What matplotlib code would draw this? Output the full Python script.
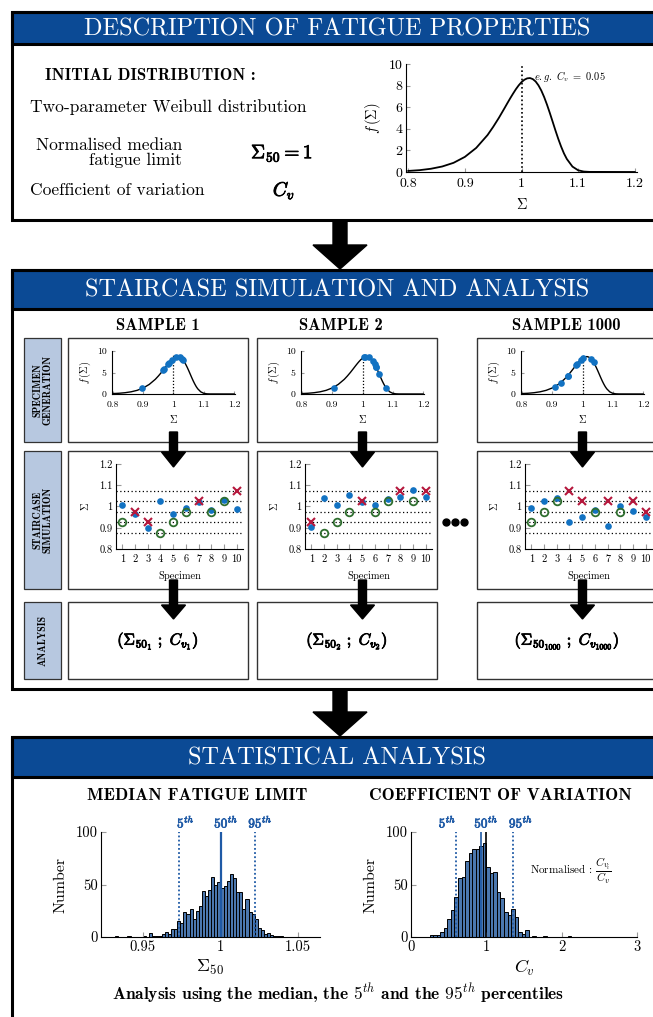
import matplotlib
matplotlib.use("Agg")
import matplotlib.pyplot as plt
import matplotlib.patheffects as pe
from matplotlib.patches import Polygon, Rectangle
from matplotlib.ticker import FuncFormatter

plt.rcParams["mathtext.fontset"] = "cm"
plt.rcParams["font.family"] = ["cmr10", "DejaVu Serif"]
plt.rcParams["axes.formatter.use_mathtext"] = True

# ---- data ----
sigma_grid = [0.80, 0.82, 0.84, 0.86, 0.88, 0.90, 0.92, 0.94, 0.95, 0.96, 0.97, 0.975,
              0.98, 0.985, 0.99, 0.995, 1.00, 1.005, 1.01, 1.015, 1.02, 1.025, 1.03,
              1.035, 1.04, 1.045, 1.05, 1.055, 1.06, 1.065, 1.07, 1.075, 1.08, 1.09,
              1.10, 1.11, 1.12, 1.20]
pdf_values = [0.10, 0.17, 0.30, 0.51, 0.85, 1.40, 2.23, 3.42, 4.18, 5.01, 5.91, 6.37,
              6.82, 7.25, 7.66, 8.02, 8.32, 8.54, 8.67, 8.70, 8.60, 8.38, 8.02,
              7.54, 6.94, 6.24, 5.47, 4.66, 3.84, 3.06, 2.35, 1.72, 1.21, 0.50,
              0.16, 0.04, 0.01, 0.00]
median_sigma = 1.0

sample_names = ["SAMPLE 1", "SAMPLE 2", "SAMPLE 1000"]
specimen_ids = [1, 2, 3, 4, 5, 6, 7, 8, 9, 10]
sample_strength = [
    [1.009, 0.967, 0.897, 1.028, 0.966, 0.994, 1.020, 0.982, 1.030, 0.986],
    [0.905, 1.040, 1.005, 1.055, 1.021, 1.009, 1.035, 1.046, 1.077, 1.046],
    [0.994, 1.028, 1.038, 0.928, 0.951, 0.982, 0.908, 1.002, 0.979, 0.951],
]
sample_pdf_height = [
    [8.6, 5.7, 1.3, 8.1, 5.6, 7.9, 8.6, 6.9, 8.0, 7.3],
    [1.5, 7.0, 8.5, 4.7, 8.6, 8.6, 7.6, 6.2, 1.5, 6.2],
    [7.9, 8.1, 7.4, 2.6, 4.2, 7.0, 1.7, 8.4, 6.8, 4.2],
]
stair_levels = [0.875, 0.925, 0.975, 1.025, 1.075]
sample_test_level = [
    [0.925, 0.975, 0.925, 0.875, 0.925, 0.975, 1.025, 0.975, 1.025, 1.075],
    [0.925, 0.875, 0.925, 0.975, 1.025, 0.975, 1.025, 1.075, 1.025, 1.075],
    [0.925, 0.975, 1.025, 1.075, 1.025, 0.975, 1.025, 0.975, 1.025, 0.975],
]
# "x" = failure, "o" = run-out
sample_outcome = [
    ["o", "x", "x", "o", "o", "o", "x", "o", "o", "x"],
    ["x", "o", "o", "o", "x", "o", "o", "x", "o", "x"],
    ["o", "o", "o", "x", "x", "o", "x", "o", "x", "x"],
]
analysis_labels = [
    r"$(\mathbf{\Sigma_{50_1}}\ ;\ C_{v_1})$",
    r"$(\mathbf{\Sigma_{50_2}}\ ;\ C_{v_2})$",
    r"$(\mathbf{\Sigma_{50_{1000}}}\ ;\ C_{v_{1000}})$",
]
row_labels = ["SPECIMEN\nGENERATION", "STAIRCASE\nSIMULATION", "ANALYSIS"]

s50_bin_start = 0.930
s50_bin_width = 0.002
s50_counts = [0, 1, 0, 0, 0, 1, 0, 0, 0, 0, 1, 0, 4, 1, 1, 1, 3, 5, 3, 8, 8, 15, 13,
              24, 22, 27, 17, 25, 30, 44, 39, 45, 57, 50, 52, 47, 49, 53, 60, 56, 43,
              43, 27, 36, 24, 22, 17, 9, 7, 3, 4, 2, 1, 1, 1]
s50_percentiles = [0.973, 1.000, 1.022]

cv_bin_start = 0.248
cv_bin_width = 0.047
cv_counts = [2, 2, 2, 5, 9, 17, 26, 38, 56, 57, 72, 80, 84, 84, 87, 90, 67, 61, 62,
             43, 37, 24, 21, 27, 19, 5, 3, 7, 0, 1, 0, 0, 1, 0, 0, 0, 0, 0, 0, 1]
cv_percentiles = [0.60, 0.93, 1.355]
cv_reference = 1.0
percentile_names = ["5", "50", "95"]

# ---- colours / layout ----
BANNER = "#0b4a95"
LABEL_BOX = "#b7c8e0"
DOT_BLUE = "#1272c2"
FAIL_RED = "#b5173c"
RUNOUT_GREEN = "#2e6e2e"
BAR_BLUE = "#4b77ae"
PCT_BLUE = "#1f5aa6"
TICK_GRAY = "#9a9a9a"
BOLD = [pe.withStroke(linewidth=0.6, foreground="black")]
BOLD_BLUE = [pe.withStroke(linewidth=0.5, foreground=PCT_BLUE)]

W, H = 653, 1017
fig = plt.figure(figsize=(W / 100, H / 100), dpi=100)
bg = fig.add_axes([0, 0, 1, 1])
bg.set_xlim(0, W)
bg.set_ylim(H, 0)
bg.axis("off")


def px_axes(x0, y0, x1, y1):
    ax = fig.add_axes([x0 / W, 1 - y1 / H, (x1 - x0) / W, (y1 - y0) / H])
    ax.patch.set_alpha(0)
    for side in ("top", "right"):
        ax.spines[side].set_visible(False)
    for side in ("left", "bottom"):
        ax.spines[side].set_linewidth(0.8)
    return ax


def style_ticks(ax, size, length=3, xpad=2.5):
    ax.tick_params(direction="in", color=TICK_GRAY, length=length, width=0.8,
                   labelsize=size, pad=2.5)
    ax.tick_params(axis="x", pad=xpad)
    ax.xaxis.set_major_formatter(FuncFormatter(lambda v, p: f"{v:g}"))
    ax.yaxis.set_major_formatter(FuncFormatter(lambda v, p: f"{v:g}"))


def block_arrow(x, y0, y1, shaft, head, head_len):
    yh = y1 - head_len
    pts = [(x - shaft / 2, y0), (x + shaft / 2, y0), (x + shaft / 2, yh), (x + head / 2, yh),
           (x, y1), (x - head / 2, yh), (x - shaft / 2, yh)]
    bg.add_patch(Polygon(pts, closed=True, color="black", zorder=6))


def section(y0, y1, banner_bottom, title):
    bg.add_patch(Rectangle((12, y0), 660, y1 - y0, fill=False, lw=2.2, ec="black", zorder=4))
    bg.add_patch(Rectangle((12, y0), 660, banner_bottom - y0, fc=BANNER, ec="black",
                           lw=2.2, zorder=3))
    bg.text(337, (y0 + banner_bottom) / 2 + 1, title, color="white", fontsize=17.5,
            ha="center", va="center", zorder=5)


# ================= section 1 =================
section(12, 220, 44, "DESCRIPTION OF FATIGUE PROPERTIES")
bg.text(45, 76, "INITIAL DISTRIBUTION :", family="cmb10", fontsize=12, va="center")
bg.text(30, 107, "Two-parameter Weibull distribution", fontsize=12.5, va="center")
bg.text(182, 153, "Normalised median\nfatigue limit", fontsize=12.5, va="center",
        ha="right", multialignment="right", linespacing=1.0)
bg.text(282, 153, r"$\mathbf{\Sigma_{50} = 1}$", fontsize=14, ha="center", va="center",
        path_effects=BOLD)
bg.text(30, 190, "Coefficient of variation", fontsize=12.5, va="center")
bg.text(284, 190, r"$C_v$", fontsize=14, ha="center", va="center", path_effects=BOLD)

ax = px_axes(406, 64, 637, 172)
ax.plot(sigma_grid, pdf_values, color="black", lw=1.3)
ax.plot([median_sigma, median_sigma], [0, 10], color="black", lw=1.2, ls=(0, (1, 1.5)))
ax.set_xlim(0.796, 1.204)
ax.set_ylim(0, 10)
ax.set_xticks([0.8, 0.9, 1.0, 1.1, 1.2])
ax.set_yticks([0, 2, 4, 6, 8, 10])
style_ticks(ax, 10, 3, xpad=4)
ax.set_xlabel(r"$\Sigma$", fontsize=10.5, labelpad=5)
ax.set_ylabel(r"$f\,(\Sigma)$", fontsize=10.5, labelpad=4)
bg.text(570, 76, r"$\mathit{e.g.}\ C_v\ =\ 0.05$", fontsize=7.5, ha="center", va="center")

block_arrow(340, 221, 269, 14, 54, 24)

# ================= section 2 =================
section(270, 689, 309, "STAIRCASE SIMULATION AND ANALYSIS")
col_left = [68, 257, 477]
title_x = [158, 341, 566]
rows = [(338, 442), (451, 589), (602, 679)]

for (y0, y1), text in zip(rows, row_labels):
    bg.add_patch(Rectangle((24, y0), 37, y1 - y0, fc=LABEL_BOX, ec="#333333", lw=0.9, zorder=4))
    bg.text(42.5, (y0 + y1) / 2, text, family="cmb10", fontsize=7.2, rotation=90,
            ha="center", va="center", linespacing=1.1, zorder=5)

for i, left in enumerate(col_left):
    bg.text(title_x[i], 326, sample_names[i], family="cmb10", fontsize=12,
            ha="center", va="center")
    for y0, y1 in rows:
        bg.add_patch(Rectangle((left, y0), 180, y1 - y0, fill=False, ec="#333333",
                               lw=1.0, zorder=4))

    # specimen generation
    ax = px_axes(left + 44, 351, left + 167, 394)
    ax.plot(sigma_grid, pdf_values, color="black", lw=1.0)
    ax.plot([median_sigma, median_sigma], [0, 9], color="black", lw=0.9, ls=(0, (1, 1.5)))
    ax.plot(sample_strength[i], sample_pdf_height[i], "o", color=DOT_BLUE, ms=4.8, mew=0)
    ax.set_xlim(0.797, 1.203)
    ax.set_ylim(0, 10)
    ax.set_xticks([0.8, 0.9, 1.0, 1.1, 1.2])
    ax.set_yticks([0, 5, 10])
    style_ticks(ax, 7, 2.5, xpad=4.5)
    ax.tick_params(axis="y", pad=4)
    ax.set_xlabel(r"$\Sigma$", fontsize=7.5, labelpad=3)
    ax.set_ylabel(r"$f\,(\Sigma)$", fontsize=7.5, labelpad=3)

    # staircase simulation
    ax = px_axes(left + 48, 464, left + 175, 549)
    for level in stair_levels:
        ax.plot([0.5, 10.5], [level, level], color="black", lw=0.9, ls=(0, (1, 2)))
    ax.plot(specimen_ids, sample_strength[i], "o", color=DOT_BLUE, ms=4.8, mew=0, zorder=3)
    fx = [s for s, o in zip(specimen_ids, sample_outcome[i]) if o == "x"]
    fy = [l for l, o in zip(sample_test_level[i], sample_outcome[i]) if o == "x"]
    rx = [s for s, o in zip(specimen_ids, sample_outcome[i]) if o == "o"]
    ry = [l for l, o in zip(sample_test_level[i], sample_outcome[i]) if o == "o"]
    ax.plot(fx, fy, "x", color=FAIL_RED, ms=6, mew=1.5, zorder=4)
    ax.plot(rx, ry, "o", mfc="none", mec=RUNOUT_GREEN, ms=5.5, mew=1.3, zorder=4)
    ax.set_xlim(0.5, 10.5)
    ax.set_ylim(0.8, 1.2)
    ax.set_xticks(specimen_ids)
    ax.set_yticks([0.8, 0.9, 1.0, 1.1, 1.2])
    style_ticks(ax, 7.5, 3.5, xpad=4)
    ax.set_xlabel("Specimen", fontsize=7.5, labelpad=5)
    ax.set_ylabel(r"$\Sigma$", fontsize=7.5, labelpad=6)

    # analysis
    bg.text(left + 90, 641, analysis_labels[i], fontsize=11.5, ha="center", va="center",
            path_effects=BOLD)

    arrow_x = left + 105.5
    block_arrow(arrow_x, 432, 467, 8, 24, 15)
    block_arrow(arrow_x, 580, 619, 8, 24, 14)

bg.plot([446, 455, 464], [522, 522, 522], "o", color="black", ms=5)

block_arrow(340, 690, 736, 14, 54, 24)

# ================= section 3 =================
section(737, 1030, 777, "STATISTICAL ANALYSIS")
bg.text(197, 795, "MEDIAN FATIGUE LIMIT", family="cmb10", fontsize=12.5, ha="center",
        va="center")
bg.text(500, 795, "COEFFICIENT OF VARIATION", family="cmb10", fontsize=12.5, ha="center",
        va="center")

# median fatigue limit histogram
ax = px_axes(101, 832, 320, 937)
s50_left = [s50_bin_start + k * s50_bin_width for k in range(len(s50_counts))]
ax.bar(s50_left, s50_counts, width=s50_bin_width, align="edge", fc=BAR_BLUE,
       ec="black", lw=0.7)
for value, name in zip(s50_percentiles, percentile_names):
    if name == "50":
        ax.plot([value, value], [0, 100], color=PCT_BLUE, lw=1.6)
    else:
        ax.plot([value, value], [0, 100], color=PCT_BLUE, lw=1.3, ls=(0, (1, 1.3)))
label_x = [0.9776, 1.0036, 1.0256]
for x, name in zip(label_x, percentile_names):
    ax.text(x, 101.5, r"$\mathbf{%s}^{th}$" % name, color=PCT_BLUE, fontsize=9.5,
            ha="center", va="bottom", clip_on=False, path_effects=BOLD_BLUE)
ax.set_xlim(0.923, 1.064)
ax.set_ylim(0, 100)
ax.set_xticks([0.95, 1.0, 1.05])
ax.set_yticks([0, 50, 100])
style_ticks(ax, 10.5, 3.5)
ax.set_xlabel(r"$\Sigma_{50}$", fontsize=13, labelpad=3)
ax.set_ylabel("Number", fontsize=11.5, labelpad=6)

# coefficient of variation histogram
ax = px_axes(411, 832, 637, 937)
cv_left = [cv_bin_start + k * cv_bin_width for k in range(len(cv_counts))]
ax.bar(cv_left, cv_counts, width=cv_bin_width, align="edge", fc=BAR_BLUE,
       ec="black", lw=0.7)
ax.plot([cv_reference, cv_reference], [0, 100], color="black", lw=1.2)
for value, name in zip(cv_percentiles, percentile_names):
    if name == "50":
        ax.plot([value, value], [0, 100], color=PCT_BLUE, lw=1.2)
    else:
        ax.plot([value, value], [0, 100], color=PCT_BLUE, lw=1.3, ls=(0, (1, 1.3)))
label_x = [0.484, 1.0, 1.46]
for x, name in zip(label_x, percentile_names):
    ax.text(x, 101.5, r"$\mathbf{%s}^{th}$" % name, color=PCT_BLUE, fontsize=9.5,
            ha="center", va="bottom", clip_on=False, path_effects=BOLD_BLUE)
ax.text(2.12, 63, r"Normalised : $\dfrac{C_{v_i}}{C_v}$", fontsize=8, ha="center",
        va="center")
ax.set_xlim(0, 3)
ax.set_ylim(0, 100)
ax.set_xticks([0, 1, 2, 3])
ax.set_yticks([0, 50, 100])
style_ticks(ax, 10.5, 3.5)
ax.set_xlabel(r"$C_v$", fontsize=13, labelpad=3)
ax.set_ylabel("Number", fontsize=11.5, labelpad=6)

bg.text(338, 993, r"Analysis using the median, the $\mathbf{5}^{th}$ and the "
        r"$\mathbf{95}^{th}$ percentiles", family="cmb10", fontsize=12.5,
        ha="center", va="center")

fig.savefig("out.png", dpi=100)
